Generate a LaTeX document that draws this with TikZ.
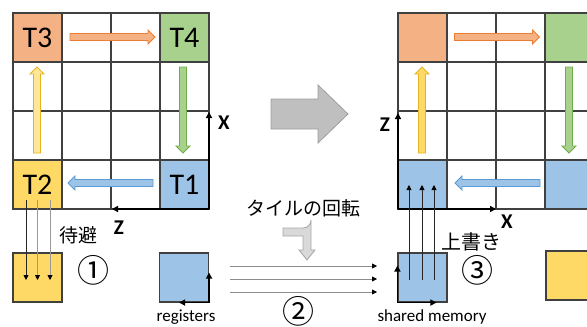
\documentclass[tikz,border=0pt]{standalone}
\usepackage{fontspec}
\setmainfont{Carlito}
\newfontfamily\jp{Noto Sans CJK JP}
\usetikzlibrary{arrows.meta,calc}
\definecolor{cOr}{HTML}{F4B183}
\definecolor{cOrD}{HTML}{ED7D31}
\definecolor{cGr}{HTML}{A9D18E}
\definecolor{cGrD}{HTML}{70AD47}
\definecolor{cBl}{HTML}{9DC3E6}
\definecolor{cBlD}{HTML}{5B9BD5}
\definecolor{cYe}{HTML}{FFD966}
\definecolor{cYeL}{HTML}{FFE699}
\definecolor{cYeD}{HTML}{E6B422}
\definecolor{cLine}{HTML}{404040}
\newcommand{\blockarrow}[4]{%
  \pgfmathsetmacro{\hl}{#4/2}\pgfmathsetmacro{\hb}{#4/2-7}%
  \draw[#1, shift={#2}, rotate=#3] (-\hl,-3.5) -- (\hb,-3.5) -- (\hb,-7) -- (\hl,0) -- (\hb,7) -- (\hb,3.5) -- (-\hl,3.5) -- cycle;}
\tikzset{
  cell/.style={minimum size=49pt, inner sep=0pt, draw=cLine, line width=1.1pt, font=\fontsize{30}{30}\selectfont},
  axisline/.style={line width=2pt, -{Triangle[length=6pt,width=6pt]}},
  lbl/.style={font=\bfseries\fontsize{21}{21}\selectfont, inner sep=0pt},
  jpl/.style={font=\jp\fontsize{19}{19}\selectfont, inner sep=0pt},
  circ/.style={font=\jp\fontsize{32}{32}\selectfont, inner sep=0pt},
  caplbl/.style={font=\fontsize{17}{17}\selectfont, inner sep=0pt, anchor=base},
  thinarr/.style={line width=0.8pt, -{Triangle[length=5pt,width=5pt,color=black]}},
}
\begin{document}
\begin{tikzpicture}[x=1pt,y=-1pt]
\useasboundingbox (0,0) rectangle (587,327);
\clip (0,0) rectangle (587,327);
% ---------- left grid ----------
\node[cell, fill=cOr] (T3) at (37.5,37.5) {T3};
\node[cell, fill=cGr] (T4) at (184.5,37.5) {T4};
\node[cell, fill=cYe] (T2) at (37.5,184.5) {T2};
\node[cell, fill=cBl] (T1) at (184.5,184.5) {T1};
\foreach \i in {0,...,4}{
  \draw[cLine, line width=1.1pt] (13+49*\i,13) -- (13+49*\i,209);
  \draw[cLine, line width=1.1pt] (13,13+49*\i) -- (209,13+49*\i);
}
\blockarrow{fill=cOr, draw=cOrD, line width=0.8pt}{(112.5,37)}{0}{85}
\blockarrow{fill=cGr, draw=cGrD, line width=0.8pt}{(183,110)}{-90}{86}
\blockarrow{fill=cYeL, draw=cYeD, line width=0.8pt}{(37,110)}{90}{86}
\blockarrow{fill=cBl, draw=cBlD, line width=0.8pt}{(110.5,183)}{180}{85}
\coordinate (LO) at (209,209);
\coordinate (LX) at (209,112);
\coordinate (LZ) at (112,209);
\draw[axisline] (LO) -- (LX);
\draw[axisline] (LO) -- (LZ);
\node[lbl] (lx) at (224,123) {X};
\node[lbl] (lz) at (119,228) {Z};
% ---------- right grid ----------
\node[cell, fill=cOr] (R3) at (422.5,37.5) {};
\node[cell, fill=cGr] (R4) at (569.5,37.5) {};
\node[cell, fill=cBl] (R2) at (422.5,184.5) {};
\node[cell, fill=cBl] (R1) at (569.5,184.5) {};
\foreach \i in {0,...,4}{
  \draw[cLine, line width=1.1pt] (398+49*\i,13) -- (398+49*\i,209);
  \draw[cLine, line width=1.1pt] (398,13+49*\i) -- (594,13+49*\i);
}
\blockarrow{fill=cOr, draw=cOrD, line width=0.8pt}{(497,37)}{0}{85}
\blockarrow{fill=cGr, draw=cGrD, line width=0.8pt}{(569,110)}{-90}{86}
\blockarrow{fill=cYe, draw=cYeD, line width=0.8pt}{(422,110)}{90}{86}
\blockarrow{fill=cBl, draw=cBlD, line width=0.8pt}{(497.5,183)}{180}{85}
\coordinate (RO) at (398,209);
\coordinate (RZ) at (398,113);
\coordinate (RX) at (496,209);
\draw[axisline] (RO) -- (RZ);
\draw[axisline] (RO) -- (RX);
\node[lbl] (rz) at (385,125) {Z};
\node[lbl] (rx) at (507,222) {X};
% ---------- big gray arrow ----------
\draw[fill=black!25, draw=black!38, line width=0.8pt] (271,99) -- (318,99) -- (318,85) -- (348,114) -- (318,143) -- (318,129) -- (271,129) -- cycle;
% ---------- bottom row ----------
\node[cell, fill=cYe] (save) at (37.5,277.5) {};
\node[cell, fill=cBl] (reg) at (184,277.5) {};
\node[cell, fill=cBl] (smem) at (422.5,277.5) {};
\node[cell, fill=cYe] (rsave) at (570.5,275.5) {};
% evacuate lines
\draw[thinarr, black!85] ([shift={(-11.5,15.5)}]T2.center) -- ([shift={(-11.5,2.5)}]save.center);
\draw[thinarr, black!40] ([shift={(0,15.5)}]T2.center) -- ([shift={(0,2.5)}]save.center);
\draw[thinarr, black!40] ([shift={(12.5,15.5)}]T2.center) -- ([shift={(12.5,2.5)}]save.center);
% register axes
\draw[axisline, line width=1.8pt] (reg.south east) -- ([yshift=30pt]reg.south east);
\draw[axisline, line width=1.8pt] (reg.south east) -- ([xshift=-30pt]reg.south east);
% shared memory axes
\draw[axisline, line width=1.8pt] (smem.south west) -- ([yshift=37pt]smem.south west);
\draw[axisline, line width=1.8pt] (smem.south west) -- ([xshift=39pt]smem.south west);
% transfer lines
\coordinate (a1) at (230,266); \coordinate (b1) at (377,266);
\coordinate (a2) at (230,279); \coordinate (b2) at (377,279);
\coordinate (a3) at (230,292); \coordinate (b3) at (377,292);
\draw[thinarr, black!45] (a1) -- (b1);
\draw[thinarr, black!45] (a2) -- (b2);
\draw[thinarr, black!45] (a3) -- (b3);
% overwrite lines
\draw[thinarr, black!85] ([shift={(-13.5,2.5)}]smem.center) -- ([shift={(-13.5,0.5)}]R2.center);
\draw[thinarr, black!85] ([shift={(-0.5,2.5)}]smem.center) -- ([shift={(-0.5,0.5)}]R2.center);
\draw[thinarr, black!85] ([shift={(11.5,2.5)}]smem.center) -- ([shift={(11.5,0.5)}]R2.center);
% curved gray arrow
\draw[fill=black!15, draw=black!35, line width=0.8pt] (283,228) -- (303,228) arc[start angle=90, end angle=0, radius=8] -- (311,250) -- (315,250) -- (307,260) -- (299,250) -- (303,250) -- (303,236) -- (283,236) -- cycle;
% labels
\node[jpl] (t1) at (78,235) {待避};
\node[jpl] (t2) at (303,208.5) {タイルの回転};
\node[jpl, font=\jp\fontsize{20}{20}\selectfont] (t3) at (471,242) {上書き};
\node[circ] (c1) at (93,270) {①};
\node[circ] (c2) at (298,311) {②};
\node[circ] (c3) at (477,270) {③};
\node[caplbl] (regl) at (186,321) {registers};
\node[caplbl] (smeml) at (432,321) {shared memory};
\end{tikzpicture}
\end{document}
